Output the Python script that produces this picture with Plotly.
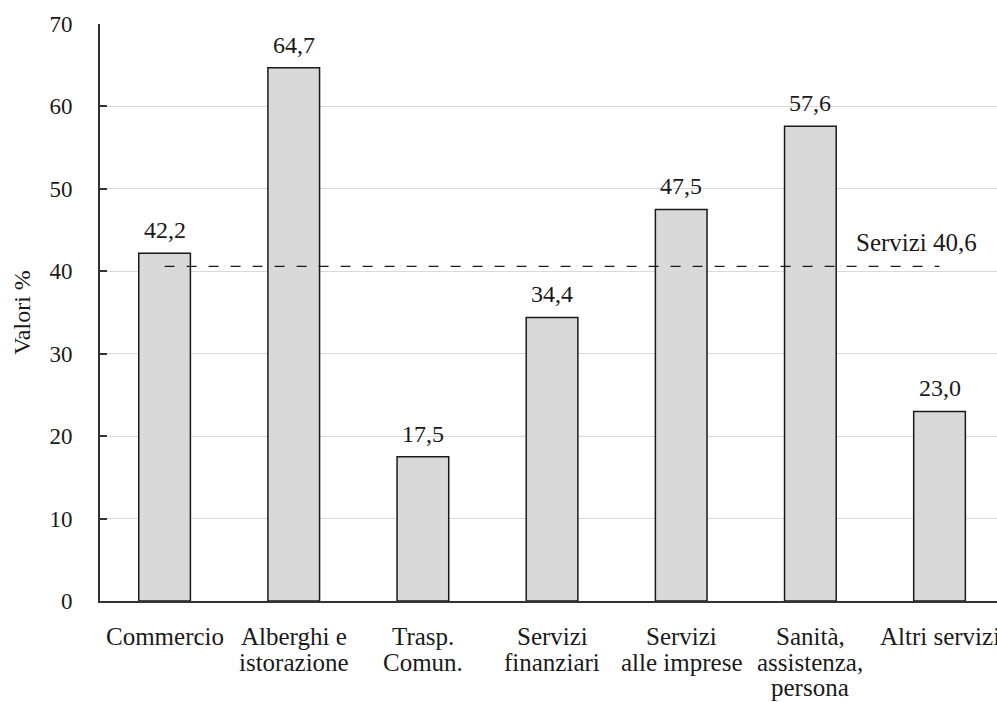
import plotly.graph_objects as go

# Category labels, one list entry per printed line
categories = [
    ["Commercio"],
    ["Alberghi e", "istorazione"],
    ["Trasp.", "Comun."],
    ["Servizi", "finanziari"],
    ["Servizi", "alle imprese"],
    ["Sanità,", "assistenza,", "persona"],
    ["Altri servizi"],
]
values = [42.2, 64.7, 17.5, 34.4, 47.5, 57.6, 23.0]
average_label = "Servizi"
average_value = 40.6
y_ticks = [0, 10, 20, 30, 40, 50, 60, 70]

FONT = "Liberation Serif, Times New Roman, serif"
INK = "#1a1a1a"
LABEL_SIZE = 25
LINE_STEP = 25.5


def fmt(v):
    return f"{v:.1f}".replace(".", ",")


x_idx = list(range(len(categories)))

fig = go.Figure()

fig.add_trace(go.Bar(
    x=x_idx,
    y=values,
    width=0.40,
    marker=dict(color="#d9d9d9", line=dict(color=INK, width=1.5)),
    showlegend=False,
    hoverinfo="skip",
))

# Sector average as a dashed reference line
fig.add_trace(go.Scatter(
    x=[x_idx[0], x_idx[-1]],
    y=[average_value, average_value],
    mode="lines",
    line=dict(color=INK, width=1.2, dash="10px,12px"),
    showlegend=False,
    hoverinfo="skip",
))

annotations = []

# value labels above the bars
for xi, v in zip(x_idx, values):
    annotations.append(dict(
        x=xi, y=v, text=fmt(v), showarrow=False,
        xanchor="center", yanchor="bottom", yshift=8,
        font=dict(family=FONT, size=24, color=INK),
    ))

annotations.append(dict(
    x=x_idx[-1], y=average_value,
    text=f"{average_label} {fmt(average_value)}",
    showarrow=False, xanchor="center", yanchor="bottom", yshift=8, xshift=-23,
    font=dict(family=FONT, size=LABEL_SIZE, color=INK),
))

# category labels under the axis, drawn line by line for tight leading
for xi, lines in zip(x_idx, categories):
    for k, line in enumerate(lines):
        annotations.append(dict(
            x=xi, y=0, text=line, showarrow=False,
            xanchor="center", yanchor="top", yshift=-(20 + k * LINE_STEP),
            font=dict(family=FONT, size=LABEL_SIZE, color=INK),
        ))

fig.update_layout(
    width=997,
    height=702,
    margin=dict(l=100, r=0, t=24, b=101),
    paper_bgcolor="white",
    plot_bgcolor="white",
    font=dict(family=FONT, size=LABEL_SIZE, color=INK),
    annotations=annotations,
    xaxis=dict(
        tickvals=x_idx,
        showticklabels=False,
        range=[-0.5, 6.445],
        showline=True,
        linecolor="#333333",
        linewidth=2,
        showgrid=False,
        ticks="",
        zeroline=False,
    ),
    yaxis=dict(
        range=[0, 70],
        tickvals=y_ticks,
        showline=True,
        linecolor="#333333",
        linewidth=2,
        showgrid=True,
        gridcolor="#d9d9d9",
        gridwidth=1,
        ticks="inside",
        ticklen=7,
        tickcolor="#333333",
        tickwidth=2,
        ticklabelstandoff=21,
        zeroline=False,
        tickfont=dict(family=FONT, size=23, color=INK),
        title=dict(text="Valori %", font=dict(family=FONT, size=24, color=INK), standoff=12),
    ),
)

fig.write_html("out.html")
